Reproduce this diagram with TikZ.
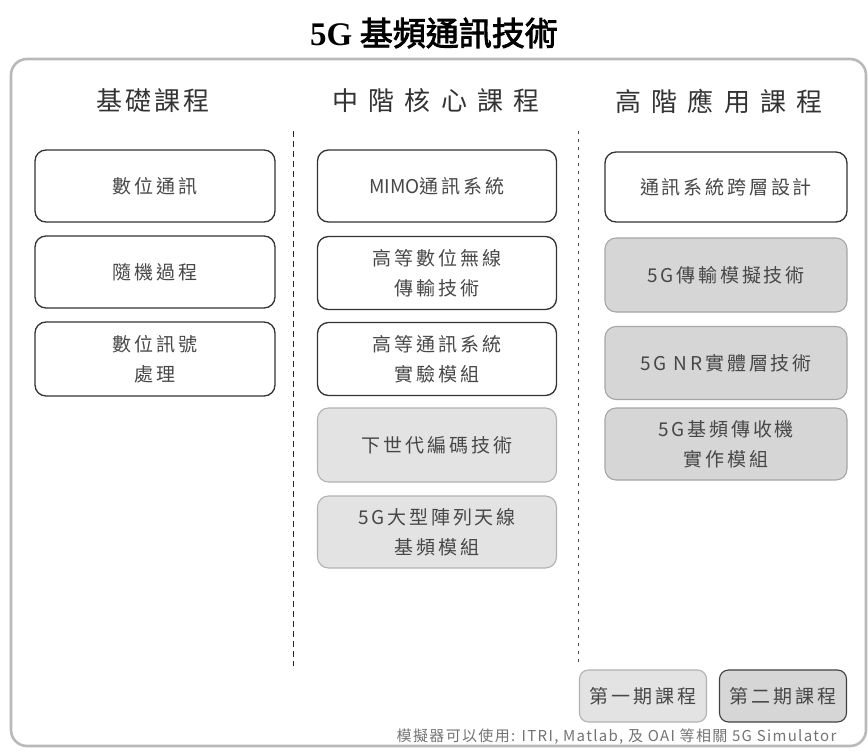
\documentclass[tikz,border=0pt]{standalone}
\usepackage{fontspec}
\newfontfamily\cjk[AutoFakeBold=2.5]{Noto Sans CJK TC}
\newfontfamily\serifb{Liberation Serif}
\setmainfont{Noto Sans CJK TC}
\begin{document}
\begin{tikzpicture}[x=1pt,y=-1pt,
  boxtext/.style={font=\cjk\fontsize{19}{30}\selectfont\addfontfeature{LetterSpace=15}, text=black!72, align=center},
  whitebox/.style={boxtext, draw=black!80, line width=1.3pt, fill=white, rounded corners=11pt, inner sep=0pt},
  graybox/.style={boxtext, draw=gray!60, line width=1.1pt, fill=gray!22, rounded corners=11pt, inner sep=0pt},
  darkgraybox/.style={boxtext, draw=gray!70, line width=1.1pt, fill=gray!32, rounded corners=11pt, inner sep=0pt},
  header/.style={font=\cjk\fontsize{26}{30}\selectfont, text=black!80},
  sep/.style={line width=0.9pt},
]
\useasboundingbox (0,0) rectangle (868,752);
% outer frame
\draw[gray!55, line width=2.6pt, rounded corners=16pt] (11,59) rectangle (866,746);
% title
\node (title) at (434,33) {\bfseries\fontsize{33}{36}\selectfont{\serifb 5G} \cjk 基頻通訊技術};
% headers
\node[header] (h1) at (153,101) {\addfontfeature{LetterSpace=12}基礎課程};
\node[header] (h2) at (436,101) {\addfontfeature{LetterSpace=40}中階核心課程};
\node[header] (h3) at (719,101) {\addfontfeature{LetterSpace=40}高階應用課程};
% separators
\coordinate (s1a) at (293,131); \coordinate (s1b) at (293,666);
\coordinate (s2a) at (578,131); \coordinate (s2b) at (578,666);
\draw[sep, black!85, dash pattern=on 6pt off 4pt] (s1a) -- (s1b);
\draw[sep, black!70, dash pattern=on 3pt off 5pt] (s2a) -- (s2b);
% left column
\node[whitebox, minimum width=240pt, minimum height=72pt] (a1) at (155,186) {數位通訊};
\node[whitebox, minimum width=240pt, minimum height=72pt] (a2) at (155,272) {隨機過程};
\node[whitebox, minimum width=240pt, minimum height=74pt] (a3) at (155,359) {數位訊號\\處理};
% middle column
\node[whitebox, minimum width=239pt, minimum height=72pt] (b1) at (437,186) {\addfontfeature{LetterSpace=0}MIMO\addfontfeature{LetterSpace=15}通訊系統};
\node[whitebox, minimum width=239pt, minimum height=73pt] (b2) at (437,273) {高等數位無線\\傳輸技術};
\node[whitebox, minimum width=239pt, minimum height=73pt] (b3) at (437,359) {高等通訊系統\\實驗模組};
\node[graybox, minimum width=239pt, minimum height=74pt] (b4) at (437,445) {下世代編碼技術};
\node[graybox, minimum width=239pt, minimum height=72pt] (b5) at (437,532) {5G大型陣列天線\\基頻模組};
% right column
\node[whitebox, minimum width=242pt, minimum height=70pt] (c1) at (726,187) {通訊系統跨層設計};
\node[darkgraybox, minimum width=242pt, minimum height=74pt] (c2) at (726,275) {5G傳輸模擬技術};
\node[darkgraybox, minimum width=242pt, minimum height=73pt] (c3) at (726,363) {5G NR實體層技術};
\node[darkgraybox, minimum width=242pt, minimum height=72pt] (c4) at (726,444) {5G基頻傳收機\\實作模組};
% legend
\node[graybox, minimum width=127pt, minimum height=52pt, rounded corners=9pt] (l1) at (643,696) {第一期課程};
\node[darkgraybox, draw=black!75, minimum width=127pt, minimum height=52pt, rounded corners=9pt] (l2) at (783,696) {第二期課程};
% footer
\node[font=\cjk\fontsize{15}{16}\selectfont\addfontfeature{LetterSpace=9}, text=black!55, anchor=east] (foot) at (840,737) {模擬器可以使用: ITRI, Matlab, 及 OAI 等相關 5G Simulator};
\end{tikzpicture}
\end{document}
